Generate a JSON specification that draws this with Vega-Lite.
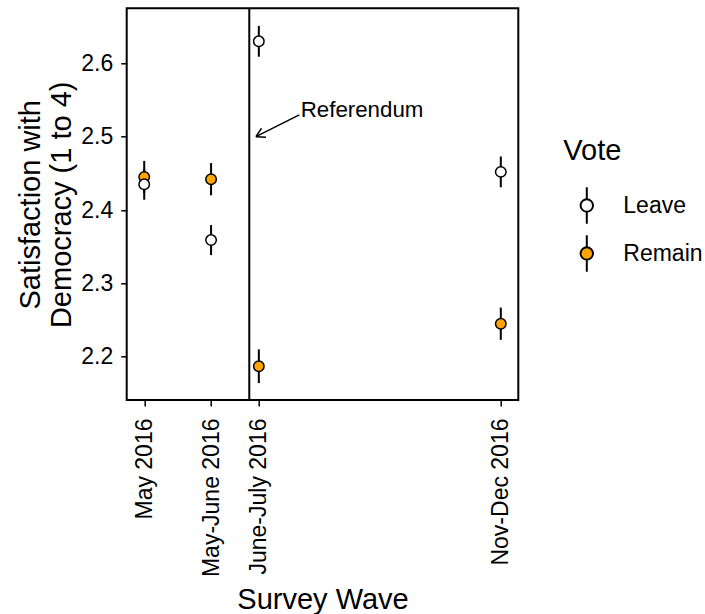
{
  "$schema": "https://vega.github.io/schema/vega-lite/v6.json",
  "width": 391.6,
  "height": 391.7,
  "autosize": {"type": "none"},
  "padding": {"left": 126.7, "top": 8.3, "right": 186.7, "bottom": 214},
  "background": "white",
  "config": {
    "font": "Liberation Sans",
    "view": {"stroke": "black", "strokeWidth": 2},
    "axis": {
      "domain": false, "grid": false,
      "tickColor": "black", "tickWidth": 1.5, "tickSize": 6,
      "labelColor": "black", "titleColor": "black",
      "labelFont": "Liberation Sans", "titleFont": "Liberation Sans",
      "labelFontSize": 23, "titleFontSize": 29, "titleFontWeight": "normal"
    },
    "legend": {
      "titleFont": "Liberation Sans", "labelFont": "Liberation Sans",
      "titleFontSize": 29, "titleFontWeight": "normal", "titleColor": "black",
      "labelFontSize": 23, "labelColor": "black"
    }
  },
  "datasets": {
    "est": [
      {"wave": "May 2016", "day": 109, "vote": "Remain", "value": 2.445, "lo": 2.423, "hi": 2.467},
      {"wave": "May-June 2016", "day": 151, "vote": "Remain", "value": 2.442, "lo": 2.420, "hi": 2.464},
      {"wave": "June-July 2016", "day": 181, "vote": "Remain", "value": 2.187, "lo": 2.164, "hi": 2.210},
      {"wave": "Nov-Dec 2016", "day": 333, "vote": "Remain", "value": 2.245, "lo": 2.223, "hi": 2.267},
      {"wave": "May 2016", "day": 109, "vote": "Leave", "value": 2.435, "lo": 2.414, "hi": 2.456},
      {"wave": "May-June 2016", "day": 151, "vote": "Leave", "value": 2.359, "lo": 2.3385, "hi": 2.3795},
      {"wave": "June-July 2016", "day": 181, "vote": "Leave", "value": 2.630, "lo": 2.609, "hi": 2.651},
      {"wave": "Nov-Dec 2016", "day": 333, "vote": "Leave", "value": 2.452, "lo": 2.431, "hi": 2.473}
    ],
    "arrow": [
      {"day": 206.4, "value": 2.5296, "day2": 179.2, "value2": 2.5},
      {"day": 185.5, "value": 2.4992, "day2": 179.2, "value2": 2.5},
      {"day": 182.7, "value": 2.5115, "day2": 179.2, "value2": 2.5}
    ]
  },
  "layer": [
    {
      "data": {"values": [{"day": 175}]},
      "mark": {"type": "rule", "color": "black", "strokeWidth": 2},
      "encoding": {
        "x": {"field": "day", "type": "quantitative"}
      }
    },
    {
      "data": {"name": "est"},
      "mark": {"type": "rule", "color": "black", "strokeWidth": 2},
      "encoding": {
        "x": {"field": "day", "type": "quantitative"},
        "y": {"field": "lo", "type": "quantitative"},
        "y2": {"field": "hi"}
      }
    },
    {
      "data": {"name": "est"},
      "mark": {"type": "point", "shape": "circle", "filled": true, "stroke": "black", "strokeWidth": 1.5, "size": 110, "opacity": 1},
      "encoding": {
        "x": {
          "field": "day", "type": "quantitative",
          "scale": {"domain": [98, 344], "nice": false, "zero": false},
          "axis": {
            "title": "Survey Wave",
            "values": [109, 151, 181, 333],
            "labelExpr": "datum.value == 109 ? 'May 2016' : datum.value == 151 ? 'May-June 2016' : datum.value == 181 ? 'June-July 2016' : 'Nov-Dec 2016'",
            "labelAngle": 270, "labelAlign": "right", "labelBaseline": "middle", "labelPadding": 12,
            "titleX": 195.8, "titleY": 208, "titleAlign": "center", "titleBaseline": "alphabetic",
            "labelOverlap": false
          }
        },
        "y": {
          "field": "value", "type": "quantitative",
          "scale": {"domain": [2.141, 2.675], "nice": false, "zero": false},
          "axis": {
            "title": ["Satisfaction with", "Democracy (1 to 4)"],
            "values": [2.2, 2.3, 2.4, 2.5, 2.6], "format": ".1f",
            "labelPadding": 8,
            "titleAngle": 270, "titleX": -87.4, "titleY": 196, "titleAlign": "center",
            "titleBaseline": "alphabetic", "titleLineHeight": 31.7
          }
        },
        "fill": {
          "field": "vote", "type": "nominal",
          "scale": {"domain": ["Leave", "Remain"], "range": ["white", "#FFA500"]},
          "legend": {
            "title": "Vote", "orient": "none", "legendX": 436.6, "legendY": 128.7,
            "padding": 0, "titlePadding": 20, "rowPadding": 3,
            "symbolType": "M0,-1L0,-0.338M0,0.338L0,1M-0.338,0A0.338,0.338,0,1,1,0.338,0A0.338,0.338,0,1,1,-0.338,0Z",
            "symbolSize": 1347, "symbolStrokeColor": "black", "symbolStrokeWidth": 2,
            "symbolOffset": 4, "labelOffset": 17
          }
        }
      }
    },
    {
      "data": {"name": "arrow"},
      "mark": {"type": "rule", "color": "black", "strokeWidth": 1.5},
      "encoding": {
        "x": {"field": "day", "type": "quantitative"},
        "y": {"field": "value", "type": "quantitative"},
        "x2": {"field": "day2"},
        "y2": {"field": "value2"}
      }
    },
    {
      "data": {"values": [{"day": 207.3, "value": 2.527, "label": "Referendum"}]},
      "mark": {"type": "text", "align": "left", "baseline": "alphabetic", "fontSize": 22.3, "font": "Liberation Sans", "color": "black"},
      "encoding": {
        "x": {"field": "day", "type": "quantitative"},
        "y": {"field": "value", "type": "quantitative"},
        "text": {"field": "label"}
      }
    }
  ]
}
